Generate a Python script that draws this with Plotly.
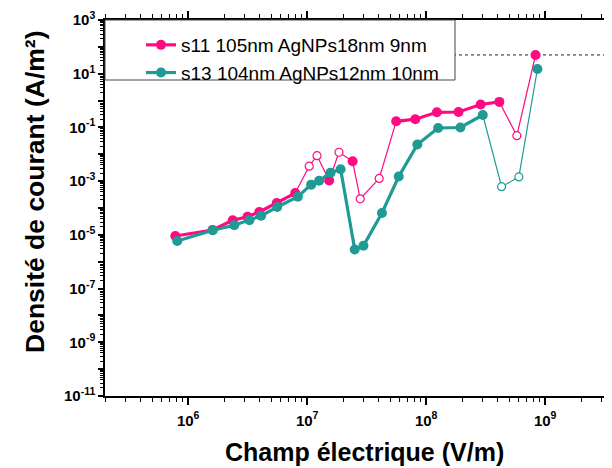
import math
import plotly.graph_objects as go

# ---- data ----
s11_name = "s11 105nm AgNPs18nm 9nm"
s11_E = [7.8e5, 1.6e6, 2.37e6, 3.15e6, 3.96e6, 5.55e6, 7.93e6, 1.04e7, 1.21e7, 1.53e7, 1.85e7,
         2.41e7, 2.79e7, 4.03e7, 5.6e7, 8.1e7, 1.23e8, 1.87e8, 2.87e8, 4.12e8, 5.78e8, 8.3e8]
s11_J = [9.1e-6, 1.52e-5, 3.5e-5, 4.75e-5, 7.1e-5, 1.54e-4, 3.6e-4, 3.6e-3, 8.9e-3, 1.06e-3, 1.19e-2,
         5.5e-3, 2.2e-4, 1.26e-3, 0.169, 0.203, 0.366, 0.376, 0.715, 0.893, 0.0493, 49.8]
s11_open = [False, False, False, False, False, False, False, True, True, False, True,
            False, True, True, False, False, False, False, False, False, True, False]

s13_name = "s13 104nm AgNPs12nm 10nm"
s13_E = [8.09e5, 1.61e6, 2.44e6, 3.27e6, 4.1e6, 5.6e6, 8.35e6, 1.08e7, 1.26e7, 1.57e7, 1.91e7,
         2.51e7, 2.97e7, 4.25e7, 5.88e7, 8.43e7, 1.26e8, 1.94e8, 2.99e8, 4.3e8, 6.01e8, 8.61e8]
s13_J = [5.9e-6, 1.48e-5, 2.27e-5, 3.49e-5, 5.13e-5, 1.09e-4, 2.64e-4, 7.4e-4, 1.04e-3, 2.07e-3, 2.77e-3,
         2.83e-6, 3.92e-6, 6.5e-5, 1.49e-3, 0.023, 0.0953, 0.0995, 0.29, 6.2e-4, 1.43e-3, 15.0]
s13_open = [False] * 19 + [True, True, False]

ref_level = 50  # dashed horizontal reference line

x_tick_exp = [6, 7, 8, 9]
y_tick_exp = list(range(-11, 4))

x_title = "Champ électrique (V/m)"
y_title = "Densité de courant (A/m²)"

PINK = "#FF0A80"
TEAL = "#1F9A94"
FONT = "Arial, Liberation Sans, sans-serif"

# page body has an 8px margin: figure coords = window coords - 8
OFF = 8
W, H = 612, 468
ML, MR, MT, MB = 105 - OFF, 0, 20 - OFF, H - (396 - OFF)
plot_w = W - ML - MR
plot_h = H - MT - MB
decade_px = 119.0
x_lo = math.log10(2e5)
x_hi = x_lo + plot_w / decade_px


def px(xw):
    return (xw - OFF - ML) / plot_w


def py(yw):
    return (H - MB - (yw - OFF)) / plot_h


fig = go.Figure()


def add_series(name, E, J, is_open, color):
    # thin line through every point
    fig.add_trace(go.Scatter(x=E, y=J, mode="lines", line=dict(color=color, width=1.2),
                             showlegend=False, hoverinfo="skip"))
    # thick line + filled markers for consecutive filled points
    yf = [None if o else v for v, o in zip(J, is_open)]
    fig.add_trace(go.Scatter(x=E, y=yf, mode="lines+markers", name=name, connectgaps=False,
                             line=dict(color=color, width=3.2),
                             marker=dict(symbol="circle", size=10, color=color)))
    # open markers
    xo = [e for e, o in zip(E, is_open) if o]
    yo = [v for v, o in zip(J, is_open) if o]
    fig.add_trace(go.Scatter(x=xo, y=yo, mode="markers", showlegend=False,
                             marker=dict(symbol="circle", size=8, color="white",
                                         line=dict(color=color, width=1.2))))


add_series(s11_name, s11_E, s11_J, s11_open, PINK)
add_series(s13_name, s13_E, s13_J, s13_open, TEAL)

x_minor = [m * 10 ** e for e in range(5, 10) for m in range(2, 10)]
y_minor = [m * 10 ** e for e in range(-11, 3) for m in range(2, 10)]

fig.update_layout(
    width=W, height=H,
    margin=dict(l=ML, r=MR, t=MT, b=MB, autoexpand=False),
    paper_bgcolor="white", plot_bgcolor="white",
    font=dict(family=FONT, color="black"),
    showlegend=True,
    legend=dict(x=px(141), y=py(26), xanchor="left", yanchor="top",
                bgcolor="rgba(0,0,0,0)", borderwidth=0,
                font=dict(family=FONT, size=19, color="black"),
                tracegroupgap=0),
    xaxis=dict(type="log", range=[x_lo, x_hi],
               tickvals=[10 ** e for e in x_tick_exp],
               ticktext=["10<sup>%d</sup>" % e for e in x_tick_exp],
               tickfont=dict(family=FONT, size=15, color="black", weight="bold"),
               ticks="outside", ticklen=7, tickwidth=1.5, tickcolor="black",
               ticklabelstandoff=3, automargin=False,
               showline=True, linecolor="black", linewidth=1.5, mirror="allticks",
               showgrid=False, zeroline=False,
               minor=dict(tickvals=x_minor, ticks="outside", ticklen=4, tickwidth=1,
                          tickcolor="black", showgrid=False)),
    yaxis=dict(type="log", range=[-11, 3],
               tickvals=[10 ** e for e in y_tick_exp],
               ticktext=[("10<sup>%d</sup>" % e) if e % 2 else "" for e in y_tick_exp],
               tickfont=dict(family=FONT, size=15, color="black", weight="bold"),
               ticks="outside", ticklen=5, tickwidth=1.5, tickcolor="black",
               automargin=False,
               showline=True, linecolor="black", linewidth=1.5, mirror=False,
               showgrid=False, zeroline=False,
               minor=dict(tickvals=y_minor, ticks="outside", ticklen=3, tickwidth=1,
                          tickcolor="black", showgrid=False)),
    shapes=[
        dict(type="line", xref="paper", x0=0, x1=1, yref="y", y0=ref_level, y1=ref_level,
             line=dict(color="#222222", width=1, dash="3px,3px"), layer="below"),
        dict(type="rect", xref="paper", yref="paper", x0=0, x1=px(455),
             y0=py(80), y1=1, fillcolor="white",
             line=dict(color="#444444", width=1), layer="above"),
    ],
    annotations=[
        dict(text="<b>%s</b>" % x_title, xref="paper", yref="paper",
             x=px(364), y=py(452), xanchor="center", yanchor="middle",
             showarrow=False, font=dict(family=FONT, size=25, color="black")),
        dict(text="<b>%s</b>" % y_title, xref="paper", yref="paper",
             x=px(35), y=py(192), xanchor="center", yanchor="middle",
             textangle=-90, showarrow=False, font=dict(family=FONT, size=26.5, color="black")),
    ],
)

fig.write_html("out.html")
